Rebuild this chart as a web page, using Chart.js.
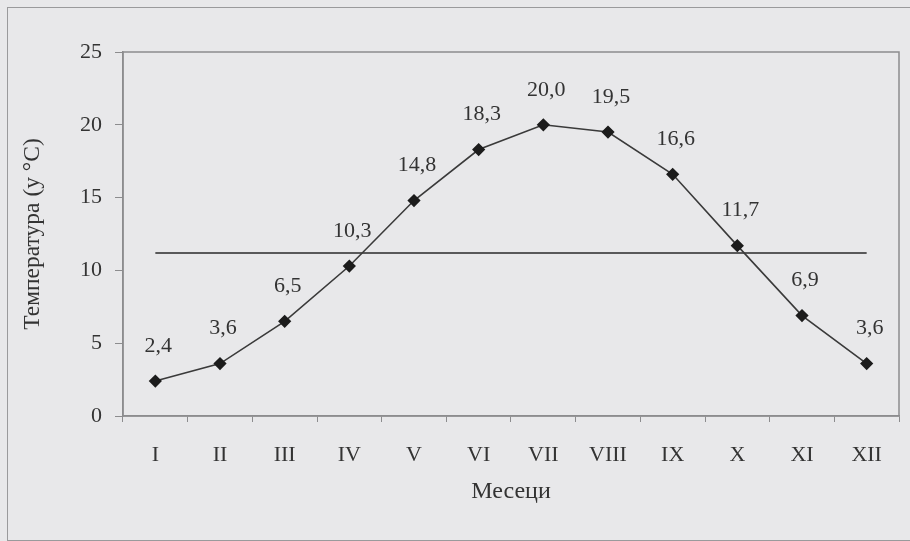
<!DOCTYPE html>
<html>
<head>
<meta charset="utf-8">
<script src="https://cdn.jsdelivr.net/npm/chart.js@4/dist/chart.umd.min.js"></script>
<style>
  html, body { margin: 0; padding: 0; background: #e8e8ea; }
  #wrap { position: relative; width: 910px; height: 541px; }
  #frame {
    position: absolute; left: 7px; top: 7px; width: 920px; height: 532px;
    border: 1.5px solid #9a9a9c;
  }
  canvas { position: absolute; left: 0; top: 0; }
</style>
</head>
<body>
<div id="wrap">
  <div id="frame"></div>
  <canvas id="chart" width="910" height="541"></canvas>
</div>
<script>
// Months (Roman numerals)
const months = ["I", "II", "III", "IV", "V", "VI", "VII", "VIII", "IX", "X", "XI", "XII"];

// Mean monthly temperature (°C)
const temps = [2.4, 3.6, 6.5, 10.3, 14.8, 18.3, 20.0, 19.5, 16.6, 11.7, 6.9, 3.6];

// Mean annual temperature line
const annualMean = [11.2, 11.2, 11.2, 11.2, 11.2, 11.2, 11.2, 11.2, 11.2, 11.2, 11.2, 11.2];

// Y axis ticks
const yTicks = [0, 5, 10, 15, 20, 25];

const serif = "'Liberation Serif', 'Times New Roman', serif";
const textColor = "#333333";

// Labels above the points, with comma decimals
const pointLabels = {
  id: "pointLabels",
  afterDatasetsDraw(chart) {
    const ctx = chart.ctx;
    const meta = chart.getDatasetMeta(0);
    ctx.save();
    ctx.font = "22px " + serif;
    ctx.fillStyle = textColor;
    ctx.textAlign = "center";
    ctx.textBaseline = "middle";
    meta.data.forEach((pt, i) => {
      const txt = temps[i].toFixed(1).replace(".", ",");
      ctx.fillText(txt, pt.x + 3, pt.y - 35);
    });
    ctx.restore();
  },
};

// Box round the plot area
const plotBox = {
  id: "plotBox",
  beforeDatasetsDraw(chart) {
    const { ctx, chartArea: a } = chart;
    ctx.save();
    ctx.strokeStyle = "#8c8c8e";
    ctx.lineWidth = 1.5;
    ctx.strokeRect(a.left, a.top, a.right - a.left, a.bottom - a.top);
    ctx.restore();
  },
};

const ctx = document.getElementById("chart").getContext("2d");
new Chart(ctx, {
  type: "line",
  data: {
    labels: months,
    datasets: [
      {
        data: temps,
        borderColor: "#3a3a3a",
        borderWidth: 1.6,
        pointStyle: "rectRot",
        pointRadius: 5.5,
        pointBackgroundColor: "#1c1c1c",
        pointBorderColor: "#1c1c1c",
        tension: 0,
      },
      {
        data: annualMean,
        borderColor: "#2a2a2a",
        borderWidth: 1.6,
        pointRadius: 0,
        tension: 0,
      },
    ],
  },
  options: {
    responsive: false,
    animation: false,
    layout: { padding: { left: 0, right: 11, top: 52, bottom: 0 } },
    plugins: {
      legend: { display: false },
      tooltip: { enabled: false },
    },
    scales: {
      x: {
        offset: true,
        grid: {
          offset: true,
          drawOnChartArea: false,
          drawTicks: true,
          tickLength: 6,
          color: "#8c8c8e",
        },
        border: { display: true, color: "#8c8c8e", width: 1.5 },
        ticks: {
          color: textColor,
          font: { family: serif, size: 22 },
          padding: 20,
          maxRotation: 0,
        },
        title: {
          display: true,
          text: "Месеци",
          color: textColor,
          font: { family: serif, size: 24, lineHeight: 1.2 },
          padding: { top: 0, bottom: 35 },
        },
        afterFit(scale) {
          scale.height = 125;
        },
      },
      y: {
        min: 0,
        max: 25,
        afterBuildTicks(scale) {
          scale.ticks = yTicks.map((v) => ({ value: v }));
        },
        grid: {
          drawOnChartArea: false,
          drawTicks: true,
          tickLength: 8,
          color: "#8c8c8e",
        },
        border: { display: true, color: "#8c8c8e", width: 1.5 },
        ticks: {
          color: textColor,
          font: { family: serif, size: 22 },
          padding: 13,
        },
        title: {
          display: true,
          text: "Температура (у °C)",
          color: textColor,
          font: { family: serif, size: 23.5, lineHeight: 1.2 },
          padding: { top: 19, bottom: 0 },
        },
        afterFit(scale) {
          scale.width = 123;
        },
      },
    },
  },
  plugins: [plotBox, pointLabels],
});
</script>
</body>
</html>
